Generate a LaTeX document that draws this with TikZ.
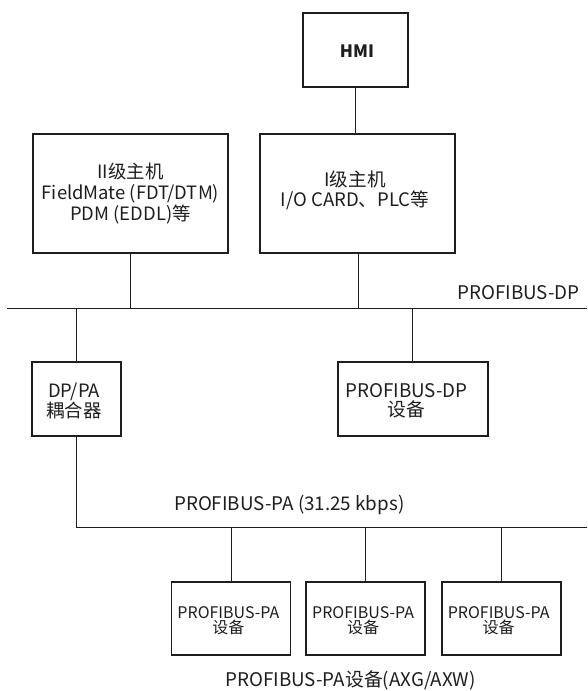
\documentclass[tikz,border=0pt]{standalone}
\usepackage{fontspec}
\setmainfont{Noto Sans CJK SC}
\definecolor{ink}{HTML}{1E1E1E}
\begin{document}
\begin{tikzpicture}[x=1pt,y=-1pt,
  box/.style={draw=ink,line width=1.9pt,inner sep=0pt},
  txt/.style={inner sep=0pt,align=center,text=ink},
  wire/.style={draw=ink,line width=1pt},
  lbl/.style={inner sep=0pt,text=ink,font=\fontsize{18.8}{20}\selectfont}]
\useasboundingbox (0,0) rectangle (587,691);
% boxes
\node[box,minimum width=105pt,minimum height=74pt] (hmi) at (355.5,50) {};
\node[box,minimum width=195.5pt,minimum height=119pt] (m2) at (130.3,193.5) {};
\node[box,minimum width=195pt,minimum height=119pt] (m1) at (357.5,193.5) {};
\node[box,minimum width=89pt,minimum height=74pt] (cp) at (76.5,399) {};
\node[box,minimum width=150pt,minimum height=74pt] (dpd) at (412.8,399) {};
\node[box,minimum width=119pt,minimum height=73pt] (pa1) at (231,618.4) {};
\node[box,minimum width=119pt,minimum height=73pt] (pa2) at (365.7,618.4) {};
\node[box,minimum width=119pt,minimum height=73pt] (pa3) at (501.3,618.4) {};
% box texts
\node[txt,font=\fontsize{17}{20}\selectfont\bfseries] (hmiT) at (357,51) {HMI};
\node[txt,font=\fontsize{18.4}{21}\selectfont] (m2T) at (130.5,193.5) {II级主机\\FieldMate (FDT/DTM)\\PDM (EDDL)等};
\node[txt,font=\fontsize{18.6}{20}\selectfont] (m1T) at (355,190) {I级主机\\I/O CARD、PLC等};
\node[txt,font=\fontsize{18.4}{18.5}\selectfont] (cpT) at (74,401) {DP/PA\\耦合器};
\node[txt,font=\fontsize{18.8}{18.5}\selectfont] (dpdT) at (406.5,401) {PROFIBUS-DP\\设备};
\node[txt,font=\fontsize{16}{15.6}\selectfont] (pa1T) at (228.4,620.5) {PROFIBUS-PA\\设备};
\node[txt,font=\fontsize{16}{15.6}\selectfont] (pa2T) at (363.1,620.5) {PROFIBUS-PA\\设备};
\node[txt,font=\fontsize{16}{15.6}\selectfont] (pa3T) at (498.7,620.5) {PROFIBUS-PA\\设备};
% bus coordinates
\coordinate (dpL) at (7,308);
\coordinate (dpR) at (587,308);
\coordinate (paR) at (587,527.3);
% labels
\node[lbl,anchor=east] (dplbl) at (580,293) {PROFIBUS-DP};
\node[lbl] (palbl) at (289.3,505) {PROFIBUS-PA (31.25 kbps)};
\node[lbl] (bot) at (350.6,680) {PROFIBUS-PA设备(AXG/AXW)};
% wires
\draw[wire] (dpL) -- (dpR);
\draw[wire] (hmi.south) -- (hmi.south |- m1.north);
\draw[wire] (m2.south) -- (m2.south |- dpL);
\draw[wire] ([xshift=1.2pt]m1.south) -- ([xshift=1.2pt]m1.south |- dpL);
\draw[wire] (cp.north |- dpL) -- (cp.north);
\draw[wire] (dpd.north |- dpL) -- (dpd.north);
\draw[wire] (cp.south) |- (paR);
\draw[wire] (pa1.north |- paR) -- (pa1.north);
\draw[wire] (pa2.north |- paR) -- (pa2.north);
\draw[wire] (pa3.north |- paR) -- (pa3.north);
\end{tikzpicture}
\end{document}
